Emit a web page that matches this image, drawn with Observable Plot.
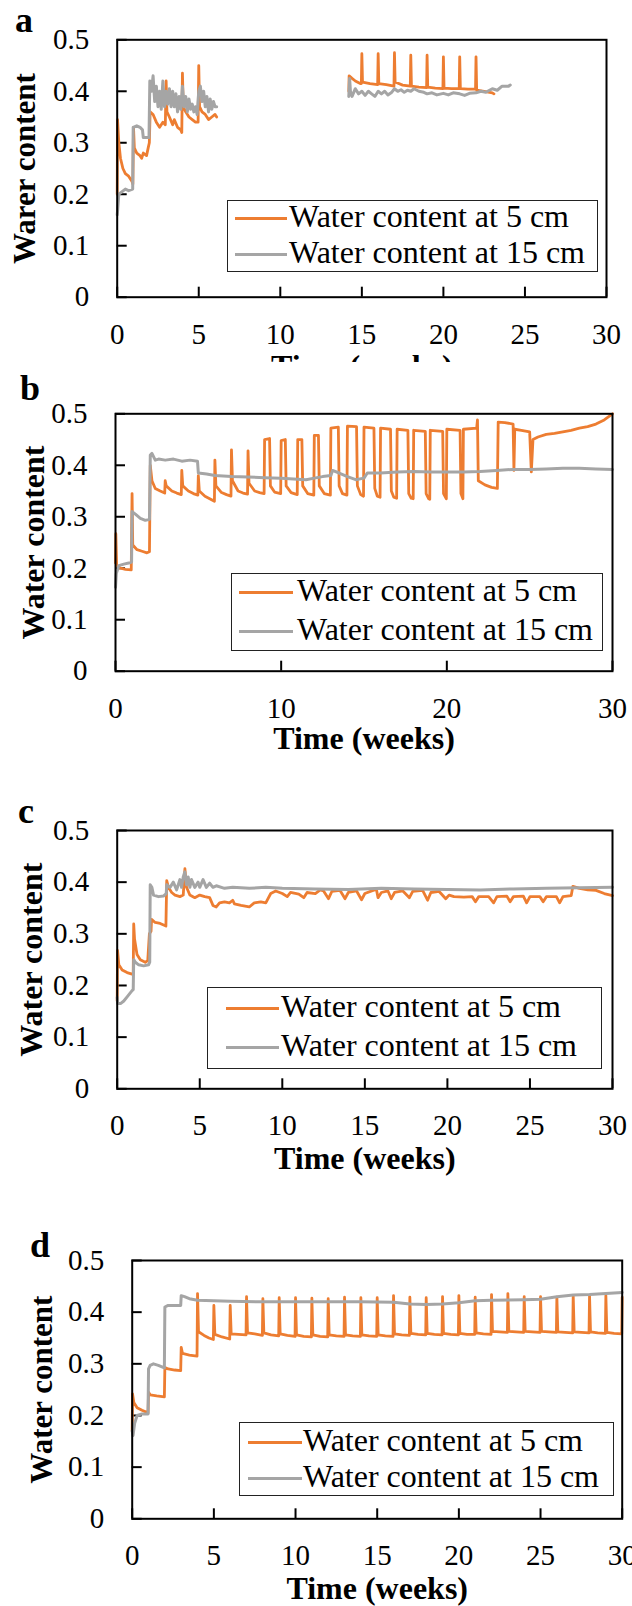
<!DOCTYPE html>
<html>
<head>
<meta charset="utf-8">
<script src="https://cdn.jsdelivr.net/npm/d3@7"></script>
<script src="https://cdn.jsdelivr.net/npm/@observablehq/plot@0.6"></script>
<style>
  body { margin: 0; background: #fff; }
  #fig { position: relative; width: 632px; height: 1606px; overflow: hidden; background: #fff;
         font-family: "Liberation Serif", "Times New Roman", serif; color: #000; }
  .panel { position: absolute; left: 0; width: 632px; overflow: hidden; }
  .panel svg text { font-family: "Liberation Serif", "Times New Roman", serif; }
  .letter { position: absolute; font-weight: bold; line-height: 1; }
  .legend { position: absolute; box-sizing: border-box; border: 1.5px solid #222; background: #fff; }
  .swatch { position: absolute; height: 3px; }
  .ltext { position: absolute; line-height: 1; white-space: nowrap; }
</style>
</head>
<body>
<div id="fig"></div>
<script>
// Series colours and labels
const ORANGE = "#ED7D31";
const GRAY = "#A5A5A5";
const seriesNames = ["Water content at 5 cm", "Water content at 15 cm"];
const panelLetters = ["a", "b", "c", "d"];
const yTitles = ["Warer content", "Water content", "Water content", "Water content"];
const xTitle = "Time (weeks)";
const yTicks = [0, 0.1, 0.2, 0.3, 0.4, 0.5];
const xTicksFive = [0, 5, 10, 15, 20, 25, 30];
const xTicksTen = [0, 10, 20, 30];

// Panel a: [time (weeks), water content]; null marks the logging gap
const a5 = [[0,0.20],[0.02,0.345],[0.1,0.30],[0.2,0.27],[0.35,0.25],[0.5,0.24],[0.7,0.235],[0.9,0.225],[0.96,0.22],
  [1.0,0.33],[1.05,0.29],[1.2,0.28],[1.4,0.275],[1.5,0.27],[1.6,0.28],[1.8,0.275],[1.9,0.29],[1.97,0.30],
  [2.02,0.36],[2.2,0.355],[2.4,0.34],[2.6,0.33],[2.8,0.34],[2.95,0.335],[3.0,0.42],[3.05,0.36],[3.2,0.35],[3.4,0.335],
  [3.5,0.345],[3.7,0.33],[3.9,0.325],[3.96,0.32],[4.0,0.435],[4.05,0.37],[4.2,0.36],[4.4,0.35],[4.6,0.345],[4.8,0.34],
  [4.96,0.34],[5.0,0.45],[5.05,0.37],[5.2,0.36],[5.4,0.355],[5.6,0.345],[5.8,0.35],[6.0,0.355],[6.1,0.35],[6.2,null],
  [14.2,0.40],[14.22,0.43],[14.4,0.425],[14.6,0.42],[14.9,0.415],[14.97,0.415],[15.0,0.473],[15.04,0.418],[15.5,0.415],
  [15.97,0.413],[16.0,0.473],[16.04,0.415],[16.5,0.413],[16.97,0.41],[17.0,0.475],[17.04,0.418],[17.5,0.412],[17.97,0.41],
  [18.0,0.47],[18.04,0.41],[18.5,0.408],[18.97,0.407],[19.0,0.47],[19.04,0.408],[19.5,0.406],[19.97,0.405],[20.0,0.467],
  [20.04,0.406],[20.5,0.405],[20.97,0.405],[21.0,0.467],[21.04,0.405],[21.5,0.404],[21.97,0.404],[22.0,0.467],[22.04,0.402],
  [22.5,0.40],[23.0,0.397],[23.1,0.395]];
const a15 = [[0,0.16],[0.03,0.17],[0.1,0.20],[0.3,0.205],[0.5,0.21],[0.7,0.207],[0.95,0.21],[0.98,0.33],[1.2,0.333],
  [1.4,0.33],[1.55,0.325],[1.6,0.31],[1.8,0.31],[1.95,0.31],[2.0,0.42],[2.1,0.40],[2.2,0.43],[2.3,0.38],[2.4,0.41],
  [2.5,0.37],[2.6,0.40],[2.7,0.365],[2.8,0.42],[2.9,0.37],[3.0,0.40],[3.1,0.375],[3.2,0.405],[3.3,0.37],[3.4,0.40],
  [3.5,0.37],[3.6,0.395],[3.7,0.36],[3.8,0.39],[3.9,0.365],[4.0,0.41],[4.1,0.37],[4.2,0.39],[4.3,0.36],[4.4,0.385],
  [4.5,0.365],[4.6,0.375],[4.7,0.36],[4.8,0.37],[4.9,0.355],[5.0,0.40],[5.1,0.41],[5.2,0.38],[5.3,0.40],[5.4,0.37],
  [5.5,0.39],[5.6,0.36],[5.7,0.385],[5.8,0.365],[5.9,0.38],[6.0,0.37],[6.1,0.37],[6.2,null],
  [14.2,0.39],[14.25,0.425],[14.3,0.40],[14.4,0.39],[14.6,0.405],[14.8,0.395],[15.0,0.40],[15.2,0.392],[15.4,0.40],
  [15.6,0.395],[15.8,0.39],[16.0,0.40],[16.2,0.395],[16.4,0.40],[16.6,0.393],[16.8,0.397],[17.0,0.405],[17.2,0.40],
  [17.4,0.403],[17.6,0.398],[17.8,0.402],[18.0,0.40],[18.2,0.405],[18.5,0.40],[18.8,0.398],[19.0,0.395],[19.3,0.397],
  [19.6,0.393],[20.0,0.396],[20.3,0.393],[20.6,0.397],[21.0,0.395],[21.3,0.392],[21.6,0.396],[22.0,0.397],[22.3,0.40],
  [22.6,0.398],[23.0,0.405],[23.3,0.402],[23.6,0.41],[24.0,0.41],[24.1,0.412]];

// Panel b
const b5 = [[0,0.21],[0.02,0.267],[0.07,0.205],[0.3,0.20],[0.6,0.198],[0.95,0.197],
  [1.0,0.345],[1.04,0.245],[1.3,0.236],[1.6,0.233],[1.9,0.23],[2.05,0.232],
  [2.1,0.40],[2.2,0.37],[2.4,0.355],[2.7,0.35],[2.97,0.346],
  [3.0,0.37],[3.06,0.36],[3.4,0.35],[3.7,0.346],[3.97,0.343],
  [4.0,0.39],[4.06,0.36],[4.4,0.35],[4.7,0.345],[4.97,0.342],
  [5.0,0.38],[5.06,0.35],[5.4,0.34],[5.8,0.333],[5.97,0.33],
  [6.0,0.41],[6.06,0.36],[6.4,0.347],[6.7,0.343],[6.97,0.34],
  [7.0,0.43],[7.06,0.37],[7.4,0.35],[7.7,0.346],[7.97,0.344],
  [8.0,0.428],[8.06,0.365],[8.4,0.35],[8.7,0.347],[8.97,0.345],
  [9.0,0.45],[9.3,0.452],[9.35,0.36],[9.6,0.348],[9.97,0.345],
  [10.0,0.448],[10.25,0.45],[10.3,0.36],[10.6,0.347],[10.97,0.343],
  [11.0,0.45],[11.25,0.45],[11.3,0.36],[11.6,0.345],[11.97,0.342],
  [12.0,0.458],[12.25,0.458],[12.3,0.36],[12.6,0.345],[12.97,0.342],
  [13.0,0.472],[13.45,0.474],[13.5,0.36],[13.7,0.345],[13.97,0.342],
  [14.0,0.476],[14.55,0.475],[14.6,0.36],[14.8,0.343],[14.97,0.34],
  [15.0,0.474],[15.6,0.472],[15.65,0.355],[15.8,0.34],[15.97,0.338],
  [16.0,0.472],[16.6,0.47],[16.65,0.35],[16.8,0.338],[16.97,0.336],
  [17.0,0.47],[17.65,0.468],[17.7,0.345],[17.85,0.336],[17.97,0.335],
  [18.0,0.468],[18.7,0.466],[18.75,0.345],[18.9,0.335],[18.97,0.334],
  [19.0,0.468],[19.75,0.466],[19.8,0.345],[19.97,0.335],
  [20.0,0.47],[20.8,0.468],[20.85,0.345],[20.97,0.335],
  [21.0,0.47],[21.8,0.472],[21.85,0.488],[21.9,0.37],[22.3,0.362],[22.7,0.357],[23.05,0.355],
  [23.1,0.484],[23.5,0.483],[24.0,0.48],[24.05,0.39],[24.1,0.47],[24.5,0.468],[25.0,0.465],[25.1,0.387],
  [25.2,0.45],[25.5,0.455],[26.0,0.46],[26.5,0.462],[27.0,0.465],[27.5,0.468],[28.0,0.472],[28.5,0.475],
  [29.0,0.48],[29.5,0.488],[30.0,0.50]];
const b15 = [[0,0.163],[0.05,0.19],[0.2,0.205],[0.5,0.208],[0.8,0.21],[0.97,0.212],[1.0,0.31],[1.2,0.305],
  [1.5,0.297],[1.8,0.293],[2.05,0.295],[2.1,0.42],[2.2,0.423],[2.4,0.41],[2.6,0.412],[3.0,0.41],[3.5,0.412],
  [4.0,0.408],[4.5,0.41],[4.95,0.408],[5.0,0.385],[5.5,0.383],[6.0,0.38],[7.0,0.378],[8.0,0.377],[9.0,0.376],
  [10.0,0.375],[11.0,0.373],[11.5,0.372],[12.0,0.375],[12.5,0.378],[13.0,0.38],[13.1,0.39],[13.5,0.385],
  [14.0,0.378],[14.5,0.372],[15.0,0.375],[15.2,0.385],[16.0,0.385],[17.0,0.387],[18.0,0.388],[19.0,0.387],
  [20.0,0.387],[21.0,0.387],[22.0,0.388],[23.0,0.39],[24.0,0.392],[25.0,0.392],[26.0,0.393],[27.0,0.394],
  [28.0,0.394],[29.0,0.393],[30.0,0.392]];

// Panel c
const c5 = [[0,0.17],[0.02,0.268],[0.1,0.24],[0.3,0.23],[0.6,0.225],[0.9,0.222],[0.97,0.225],[1.0,0.319],
  [1.05,0.29],[1.2,0.26],[1.4,0.25],[1.7,0.245],[1.85,0.248],[1.95,0.30],[2.05,0.305],[2.08,0.328],[2.3,0.322],
  [2.6,0.32],[2.95,0.315],[3.0,0.403],[3.1,0.39],[3.3,0.38],[3.5,0.375],[3.8,0.372],[4.0,0.375],[4.1,0.426],
  [4.2,0.39],[4.4,0.375],[4.7,0.37],[5.0,0.375],[5.3,0.372],[5.6,0.37],[5.8,0.355],[6.0,0.352],[6.2,0.36],
  [6.5,0.362],[6.8,0.36],[7.0,0.365],[7.1,0.358],[7.5,0.355],[8.0,0.352],[8.3,0.36],[8.7,0.362],[9.0,0.36],
  [9.3,0.378],[9.6,0.383],[10.0,0.378],[10.3,0.372],[10.5,0.38],[11.0,0.377],[11.3,0.37],[11.5,0.38],[12.0,0.378],
  [12.3,0.385],[12.5,0.383],[12.8,0.368],[13.0,0.382],[13.5,0.384],[13.8,0.368],[14.0,0.38],[14.5,0.383],
  [14.8,0.366],[15.0,0.378],[15.5,0.384],[15.7,0.386],[15.8,0.37],[16.0,0.38],[16.4,0.383],[16.6,0.368],
  [16.8,0.38],[17.3,0.383],[17.7,0.37],[17.9,0.382],[18.5,0.384],[18.8,0.365],[19.0,0.38],[19.5,0.382],
  [19.9,0.368],[20.1,0.375],[20.4,0.372],[21.0,0.371],[21.5,0.372],[21.7,0.362],[21.9,0.372],[22.5,0.372],
  [22.8,0.36],[23.0,0.372],[23.6,0.373],[23.8,0.362],[24.0,0.372],[24.6,0.373],[24.8,0.36],[25.0,0.372],
  [25.6,0.372],[25.8,0.362],[26.0,0.372],[26.6,0.372],[26.8,0.36],[27.0,0.372],[27.5,0.374],[27.6,0.392],
  [28.0,0.388],[28.5,0.385],[29.0,0.384],[29.5,0.378],[30.0,0.374]];
const c15 = [[0,0.177],[0.03,0.165],[0.2,0.165],[0.4,0.17],[0.6,0.178],[0.9,0.19],[0.97,0.192],[1.0,0.25],
  [1.1,0.245],[1.3,0.24],[1.6,0.238],[1.9,0.24],[1.97,0.245],[2.0,0.395],[2.1,0.39],[2.2,0.375],[2.5,0.372],
  [2.8,0.373],[2.97,0.378],[3.0,0.395],[3.2,0.39],[3.4,0.40],[3.6,0.385],[3.8,0.405],[3.9,0.39],[4.0,0.41],
  [4.1,0.42],[4.2,0.395],[4.3,0.41],[4.4,0.39],[4.5,0.405],[4.7,0.39],[4.9,0.40],[5.0,0.39],[5.2,0.405],
  [5.4,0.39],[5.6,0.398],[5.8,0.39],[6.0,0.393],[6.5,0.388],[7.0,0.39],[8.0,0.388],[9.0,0.39],[10.0,0.388],
  [12.0,0.387],[14.0,0.386],[16.0,0.388],[18.0,0.387],[20.0,0.386],[22.0,0.385],[24.0,0.387],[26.0,0.388],
  [28.0,0.389],[30.0,0.39]];

// Panel d
const d5 = [[0,0.17],[0.02,0.242],[0.1,0.225],[0.3,0.215],[0.6,0.21],[0.97,0.205],
  [1.0,0.245],[1.1,0.24],[1.5,0.238],[1.97,0.236],[2.0,0.293],[2.2,0.29],[2.6,0.288],[2.97,0.287],
  [3.0,0.332],[3.08,0.32],[3.5,0.317],[3.97,0.315],[4.0,0.436],[4.06,0.362],[4.4,0.355],[4.7,0.35],[4.97,0.347],
  [5.0,0.413],[5.06,0.357],[5.5,0.352],[5.97,0.348],[6.0,0.413],[6.06,0.358],[6.5,0.357],[6.97,0.356],
  [7.0,0.43],[7.06,0.36],[7.5,0.358],[7.97,0.355],[8.0,0.426],[8.06,0.36],[8.5,0.356],[8.97,0.354],
  [9.0,0.428],[9.06,0.358],[9.5,0.355],[9.97,0.353],[10.0,0.428],[10.06,0.356],[10.5,0.353],[10.97,0.352],
  [11.0,0.427],[11.06,0.356],[11.5,0.353],[11.97,0.352],[12.0,0.426],[12.06,0.356],[12.5,0.354],[12.97,0.353],
  [13.0,0.429],[13.06,0.356],[13.5,0.354],[13.97,0.353],[14.0,0.428],[14.06,0.356],[14.5,0.354],[14.97,0.353],
  [15.0,0.428],[15.06,0.356],[15.5,0.354],[15.97,0.353],[16.0,0.432],[16.06,0.358],[16.5,0.356],[16.97,0.355],
  [17.0,0.429],[17.06,0.359],[17.5,0.357],[17.97,0.356],[18.0,0.428],[18.06,0.359],[18.5,0.357],[18.97,0.356],
  [19.0,0.43],[19.06,0.359],[19.5,0.357],[19.97,0.356],[20.0,0.432],[20.06,0.359],[20.5,0.357],[20.97,0.357],
  [21.0,0.429],[21.06,0.36],[21.5,0.358],[21.97,0.357],[22.0,0.434],[22.06,0.363],[22.5,0.362],[22.97,0.361],
  [23.0,0.436],[23.06,0.363],[23.5,0.362],[23.97,0.361],[24.0,0.43],[24.06,0.363],[24.5,0.362],[24.97,0.361],
  [25.0,0.43],[25.06,0.363],[25.5,0.362],[25.97,0.361],[26.0,0.429],[26.06,0.362],[26.5,0.361],[26.97,0.36],
  [27.0,0.432],[27.06,0.362],[27.5,0.361],[27.97,0.36],[28.0,0.432],[28.06,0.362],[28.5,0.36],[28.97,0.359],
  [29.0,0.432],[29.06,0.361],[29.5,0.359],[29.97,0.358],[30.0,0.429]];
const d15 = [[0,0.17],[0.05,0.161],[0.15,0.185],[0.3,0.20],[0.6,0.203],[0.97,0.203],[1.0,0.29],[1.1,0.297],
  [1.3,0.30],[1.6,0.297],[1.97,0.292],[2.0,0.41],[2.2,0.413],[2.6,0.413],[2.97,0.413],[3.0,0.432],[3.2,0.43],
  [3.5,0.426],[4.0,0.423],[5.0,0.422],[6.0,0.421],[8.0,0.42],[10.0,0.42],[12.0,0.42],[14.0,0.42],[16.0,0.419],
  [17.0,0.416],[18.0,0.415],[19.0,0.416],[20.0,0.418],[21.0,0.422],[22.0,0.423],[24.0,0.424],[25.0,0.425],
  [26.0,0.43],[27.0,0.433],[28.0,0.434],[29.0,0.436],[30.0,0.438]];

const series = [[a5, a15], [b5, b15], [c5, c15], [d5, d15]];

// Page layout of the four panels (pixels)
const layout = [
  {top: 0, height: 362, ml: 116.7, mr: 26, mt: 39.3, mb: 65.3, xTicks: xTicksFive, yTitleDx: -92, yTitleSize: 31, xTitleDy: 70,
   letter: {x: 15, y: 32}, legend: {left: 226.7, top: 200, w: 371, h: 71.7, lineX: 235, lineW: 52, textX: 289, rows: [218.3, 254]}},
  {top: 362, height: 420, ml: 115, mr: 20, mt: 51.3, mb: 111.3, xTicks: xTicksTen, yTitleDx: -82, yTitleSize: 32, xTitleDy: 68,
   letter: {x: 20, y: 400}, legend: {left: 231, top: 572.7, w: 372.3, h: 78.3, lineX: 239, lineW: 54, textX: 297, rows: [592.3, 631.7]}},
  {top: 782, height: 400, ml: 116.7, mr: 20, mt: 48, mb: 93.7, xTicks: xTicksFive, yTitleDx: -85, yTitleSize: 32, xTitleDy: 70,
   letter: {x: 18, y: 823}, legend: {left: 206.7, top: 987.3, w: 395.3, h: 81.7, lineX: 226, lineW: 53, textX: 281, rows: [1008.3, 1047.7]}},
  {top: 1182, height: 424, ml: 131.7, mr: 10.3, mt: 78, mb: 87.7, xTicks: xTicksFive, yTitleDx: -90, yTitleSize: 31, xTitleDy: 70,
   letter: {x: 30, y: 1256.7}, legend: {left: 238.7, top: 1422.3, w: 375.6, h: 73.4, lineX: 248, lineW: 54, textX: 303, rows: [1442.3, 1478.3]}}
];

const fig = document.getElementById("fig");
const FONT = '"Liberation Serif", "Times New Roman", serif';

layout.forEach((L, i) => {
  const [s5, s15] = series[i];
  const fh = L.height - L.mt - L.mb;
  const fw = 632 - L.ml - L.mr;
  const chart = Plot.plot({
    width: 632,
    height: L.height,
    marginLeft: L.ml, marginRight: L.mr, marginTop: L.mt, marginBottom: L.mb,
    style: {fontFamily: FONT, fontSize: "29px", color: "#000", background: "white", overflow: "hidden"},
    x: {domain: [0, 30]},
    y: {domain: [0, 0.5]},
    marks: [
      Plot.axisX(L.xTicks, {tickSize: 0, tickPadding: 26, label: null, fontSize: 29, fontFamily: FONT,
        fontVariant: "normal", tickFormat: d => String(d)}),
      Plot.axisY(yTicks, {tickSize: 0, tickPadding: 28, label: null, fontSize: 29, fontFamily: FONT,
        fontVariant: "normal", tickFormat: d => String(d)}),
      // inward tick marks
      Plot.tickX(L.xTicks, {x: d => d, insetTop: fh - 10, stroke: "#000", strokeWidth: 2}),
      Plot.tickY(yTicks, {y: d => d, insetRight: fw - 10, stroke: "#000", strokeWidth: 2}),
      Plot.line(s5, {x: d => d[0], y: d => d[1], stroke: ORANGE, strokeWidth: 2.8, strokeLinejoin: "round"}),
      Plot.line(s15, {x: d => d[0], y: d => d[1], stroke: GRAY, strokeWidth: 3, strokeLinejoin: "round"}),
      Plot.frame({stroke: "#000", strokeWidth: 2}),
      Plot.text([xTitle], {text: d => d, frameAnchor: "bottom", dy: L.xTitleDy, fontWeight: "bold",
        fontSize: 32, fontFamily: FONT, textAnchor: "middle", lineAnchor: "middle"}),
      Plot.text([yTitles[i]], {text: d => d, frameAnchor: "left", dx: L.yTitleDx, rotate: -90,
        fontWeight: "bold", fontSize: L.yTitleSize, fontFamily: FONT, textAnchor: "middle", lineAnchor: "middle"})
    ]
  });
  const holder = document.createElement("div");
  holder.className = "panel";
  holder.style.top = L.top + "px";
  holder.style.height = L.height + "px";
  holder.appendChild(chart);
  fig.appendChild(holder);
});

// Panel letters and legends
layout.forEach((L, i) => {
  const fs = 36;
  const letter = document.createElement("div");
  letter.className = "letter";
  letter.textContent = panelLetters[i];
  letter.style.fontSize = fs + "px";
  letter.style.left = L.letter.x + "px";
  letter.style.top = (L.letter.y - 0.8375 * fs) + "px";
  fig.appendChild(letter);

  const g = L.legend;
  const box = document.createElement("div");
  box.className = "legend";
  box.style.left = g.left + "px";
  box.style.top = g.top + "px";
  box.style.width = g.w + "px";
  box.style.height = g.h + "px";
  fig.appendChild(box);
  seriesNames.forEach((name, k) => {
    const sw = document.createElement("div");
    sw.className = "swatch";
    sw.style.background = k === 0 ? ORANGE : GRAY;
    sw.style.left = g.lineX + "px";
    sw.style.width = g.lineW + "px";
    sw.style.top = (g.rows[k] - 1.5) + "px";
    fig.appendChild(sw);
    const tx = document.createElement("div");
    tx.className = "ltext";
    tx.textContent = name;
    tx.style.fontSize = "32px";
    tx.style.left = g.textX + "px";
    tx.style.top = (g.rows[k] + 8.5 - 0.8375 * 32) + "px";
    fig.appendChild(tx);
  });
});
</script>
</body>
</html>
